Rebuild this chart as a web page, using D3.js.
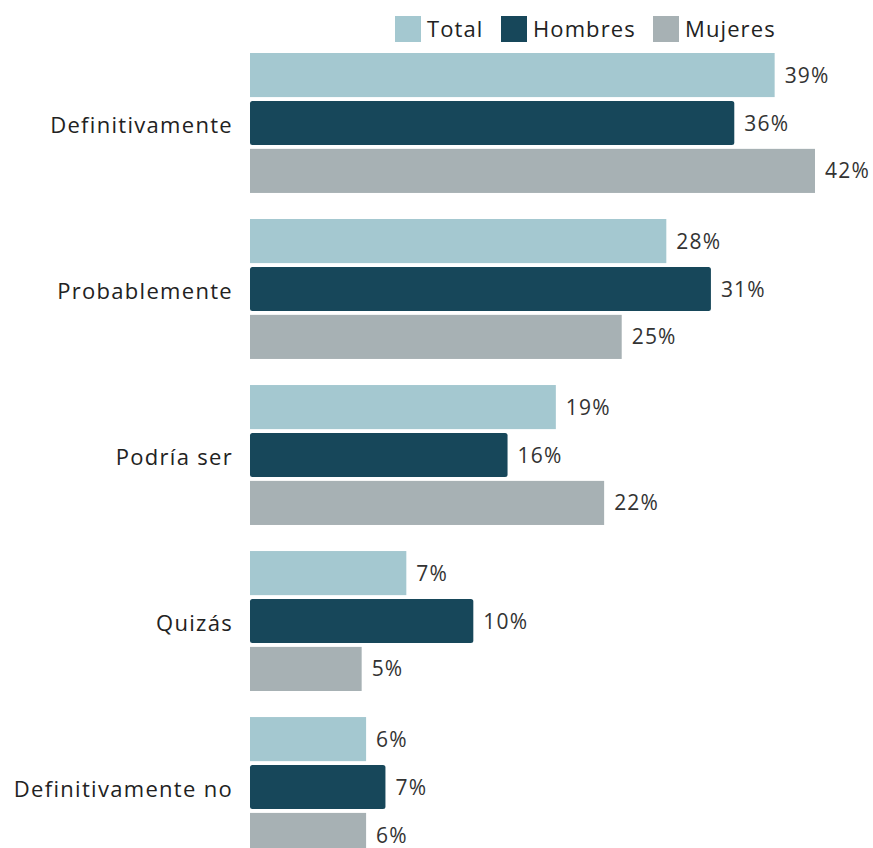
<!DOCTYPE html>
<html><head><meta charset="utf-8">
<script src="https://cdn.jsdelivr.net/npm/d3@7"></script>
<style>html,body{margin:0;padding:0;background:#fff;}svg{display:block;}</style>
</head><body>
<svg id="chart" width="873" height="848"></svg>
<script>
const categories = ["Definitivamente", "Probablemente", "Podría ser", "Quizás", "Definitivamente no"];
const seriesNames = ["Total", "Hombres", "Mujeres"];
const total   = [39, 28, 19, 7, 6];
const hombres = [36, 31, 16, 10, 7];
const mujeres = [42, 25, 22, 5, 6];
// each group in the original is drawn on its own length scale
const groupScaleMax = [42, 38, 35.1, 25.3, 29.2];

const colors = {Total: "#a4c8d0", Hombres: "#17475a", Mujeres: "#a7b1b4"};
const seriesValues = {Total: total, Hombres: hombres, Mujeres: mujeres};

const svg = d3.select("#chart");
const font = "'Open Sans', sans-serif";
const x0 = 250, xW = 565;

const y0 = d3.scaleBand().domain(categories).range([53, 857]).paddingInner(0.157).paddingOuter(0);
const y1 = d3.scaleBand().domain(seriesNames).range([0, y0.bandwidth()]).paddingInner(0.08);

categories.forEach((cat, i) => {
  const xs = d3.scaleLinear().domain([0, groupScaleMax[i]]).range([x0, x0 + xW]);
  const g = svg.append("g").attr("transform", `translate(0,${y0(cat)})`);
  seriesNames.forEach(s => {
    const v = seriesValues[s][i];
    g.append("rect")
      .attr("x", xs(0)).attr("y", y1(s))
      .attr("width", xs(v) - xs(0)).attr("height", y1.bandwidth())
      .attr("rx", s === "Hombres" ? 2.5 : 0)
      .attr("fill", colors[s]);
    g.append("text")
      .attr("x", xs(v) + 10).attr("y", y1(s) + y1.bandwidth() / 2)
      .attr("dy", "0.36em")
      .attr("font-family", font).attr("font-size", 21).attr("letter-spacing", 1.2)
      .attr("fill", "#333")
      .text(v + "%");
  });
  svg.append("text")
    .attr("x", 233).attr("y", y0(cat) + y0.bandwidth() / 2 + 2)
    .attr("dy", "0.36em").attr("text-anchor", "end")
    .attr("font-family", font).attr("font-size", 22).attr("letter-spacing", 1.3)
    .attr("fill", "#222")
    .text(cat);
});

// legend
const legendX = [395, 501, 653];
seriesNames.forEach((s, i) => {
  const lg = svg.append("g").attr("transform", `translate(${legendX[i]},16)`);
  lg.append("rect").attr("width", 26).attr("height", 26).attr("fill", colors[s]);
  lg.append("text").attr("x", 32).attr("y", 13).attr("dy", "0.36em")
    .attr("font-family", font).attr("font-size", 22).attr("letter-spacing", 1.1)
    .attr("fill", "#222").text(s);
});
</script>
</body></html>
